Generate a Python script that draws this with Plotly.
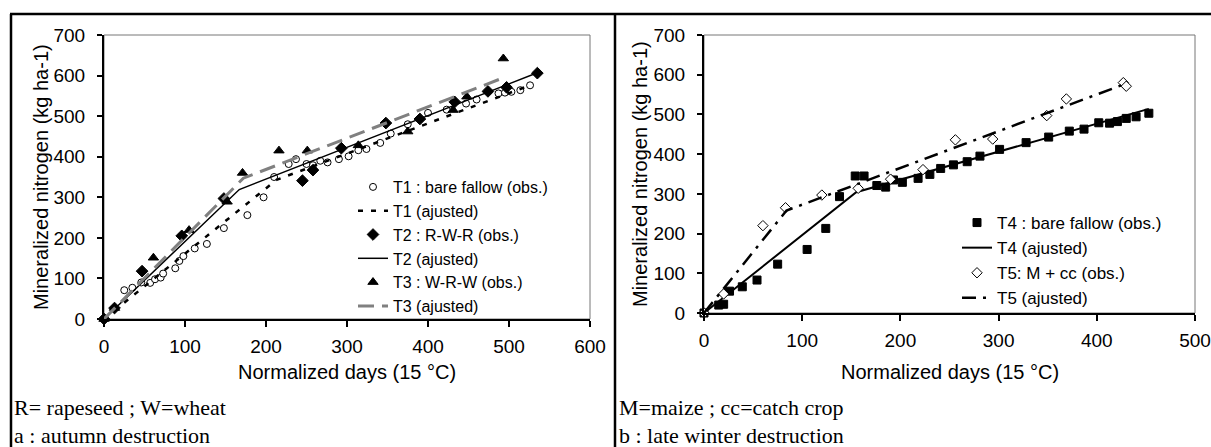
import plotly.graph_objects as go

# ---- panel a : autumn destruction ----
t1_days = [0, 25, 35, 46, 57, 63, 70, 73, 88, 93, 98, 112, 127, 148, 177, 197, 210, 228, 237,
           250, 258, 267, 276, 290, 302, 314, 324, 341, 354, 375, 400, 423, 447, 460, 487, 495,
           503, 514, 526]
t1_obs = [0, 71, 77, 90, 89, 98, 102, 112, 125, 143, 155, 174, 185, 224, 256, 300, 350, 382, 394,
          382, 379, 390, 386, 394, 401, 416, 419, 434, 457, 480, 508, 516, 531, 541, 556, 558,
          560, 564, 576]
t1_fit_days = [0, 213, 526]
t1_fit = [0, 343, 576]

t2_days = [0, 13, 47, 96, 148, 245, 258, 293, 348, 390, 433, 474, 497, 535]
t2_obs = [0, 27, 118, 205, 297, 341, 367, 421, 483, 493, 535, 561, 571, 606]
t2_fit_days = [0, 167, 535]
t2_fit = [0, 319, 607]

t3_days = [0, 13, 61, 105, 152, 171, 216, 251, 314, 375, 431, 448, 493]
t3_obs = [0, 27, 151, 219, 289, 360, 415, 415, 428, 462, 515, 548, 642]
t3_fit_days = [0, 172, 491]
t3_fit = [0, 347, 593]

# ---- panel b : late winter destruction ----
t4_days = [0, 15, 20, 26, 39, 54, 75, 105, 124, 138, 154, 163, 176, 185, 193, 202, 218, 230,
           241, 254, 268, 281, 301, 328, 351, 372, 387, 402, 413, 421, 430, 440, 453]
t4_obs = [0, 20, 22, 55, 66, 83, 123, 160, 213, 293, 345, 345, 321, 317, 335, 329, 339, 349,
          364, 373, 381, 395, 412, 429, 443, 458, 463, 479, 478, 482, 490, 494, 503]
t4_fit_days = [0, 155, 453]
t4_fit = [0, 304, 514]

t5_days = [0, 20, 60, 83, 120, 157, 190, 223, 256, 294, 349, 369, 427, 430]
t5_obs = [0, 48, 220, 265, 297, 314, 337, 361, 436, 438, 497, 539, 580, 571]
t5_fit_days = [0, 84, 430]
t5_fit = [0, 258, 578]

W, H = 1211, 447
FONT = "Liberation Sans, Arial, sans-serif"
SERIF = "Liberation Serif, Times New Roman, serif"


def px(x):
    return x / W


def py(y):
    return (H - y) / H


fig = go.Figure()


def obs(x, y, name, symbol, size, xa, ya, legend, fill="black"):
    fig.add_trace(go.Scatter(
        x=x, y=y, mode="markers", name=name, xaxis=xa, yaxis=ya, legend=legend,
        marker=dict(symbol=symbol, size=size, color=fill, line=dict(color="black", width=1)),
        cliponaxis=False))


def fit(x, y, name, color, width, dash, xa, ya, legend):
    fig.add_trace(go.Scatter(
        x=x, y=y, mode="lines", name=name, xaxis=xa, yaxis=ya, legend=legend,
        line=dict(color=color, width=width, dash=dash), cliponaxis=False))


obs(t1_days, t1_obs, "T1 : bare fallow (obs.)", "circle", 7, "x", "y", "legend", fill="white")
fit(t1_fit_days, t1_fit, "T1 (ajusted)", "black", 2.5, "5px,8px", "x", "y", "legend")
obs(t2_days, t2_obs, "T2 : R-W-R (obs.)", "diamond", 9, "x", "y", "legend")
fit(t2_fit_days, t2_fit, "T2 (ajusted)", "black", 1.5, "solid", "x", "y", "legend")
obs(t3_days, t3_obs, "T3 : W-R-W (obs.)", "triangle-up", 9, "x", "y", "legend")
fit(t3_fit_days, t3_fit, "T3 (ajusted)", "#808080", 3, "16px,8px", "x", "y", "legend")

obs(t4_days, t4_obs, "T4 : bare fallow (obs.)", "square", 8, "x2", "y2", "legend2")
fit(t4_fit_days, t4_fit, "T4 (ajusted)", "black", 2, "solid", "x2", "y2", "legend2")
obs(t5_days, t5_obs, "T5: M + cc (obs.)", "diamond", 8, "x2", "y2", "legend2", fill="white")
fit(t5_fit_days, t5_fit, "T5 (ajusted)", "black", 2.5, "14px,7px,3px,7px", "x2", "y2", "legend2")

xax = dict(showgrid=False, zeroline=False, showline=True, linecolor="black", linewidth=2,
           ticks="outside", ticklen=6, tickwidth=1.5, tickcolor="black", dtick=100,
           tickfont=dict(family=FONT, size=19, color="black"), ticklabelstandoff=3)
yax = dict(showgrid=False, zeroline=False, showline=True, linecolor="black", linewidth=2,
           ticks="outside", ticklen=5, tickwidth=1.5, tickcolor="black", dtick=100,
           range=[0, 700], tickfont=dict(family=FONT, size=19, color="black"),
           ticklabelstandoff=8)

legend_base = dict(bgcolor="rgba(0,0,0,0)", borderwidth=0, xanchor="left", yanchor="top",
                   traceorder="normal")

fig.update_layout(
    width=W, height=H, margin=dict(l=0, r=0, t=0, b=0, autoexpand=False),
    paper_bgcolor="white", plot_bgcolor="white",
    xaxis=dict(xax, domain=[px(104), px(590)], range=[0, 600], anchor="y"),
    yaxis=dict(yax, domain=[py(319), py(35)], anchor="x"),
    xaxis2=dict(xax, domain=[px(704), px(1195)], range=[0, 500], anchor="y2"),
    yaxis2=dict(yax, domain=[py(313), py(35)], anchor="x2"),
    legend=dict(legend_base, x=px(353), y=py(170), font=dict(family=FONT, size=16, color="black")),
    legend2=dict(legend_base, x=px(957), y=py(205), font=dict(family=FONT, size=17, color="black")),
)

# plot area borders
for xr, yr in (("x domain", "y domain"), ("x2 domain", "y2 domain")):
    fig.add_shape(type="rect", xref=xr, yref=yr, x0=0, x1=1, y0=0, y1=1,
                  line=dict(color="#777777", width=1), layer="below")

# table frame
frame = dict(xref="paper", yref="paper", line=dict(color="black", width=2.5))
fig.add_shape(type="line", x0=px(10), x1=1, y0=py(14), y1=py(14), **frame)
fig.add_shape(type="line", x0=px(11), x1=px(11), y0=py(14), y1=0, **frame)
fig.add_shape(type="line", x0=px(615), x1=px(615), y0=py(14), y1=0, **frame)

title_font = dict(family=FONT, size=20, color="black")
for x, y in ((41, 177), (640, 174)):
    fig.add_annotation(text="Mineralized nitrogen (kg ha-1)", x=px(x), y=py(y), xref="paper",
                       yref="paper", textangle=-90, showarrow=False, font=title_font,
                       xanchor="center", yanchor="middle")
for x in (347, 949.5):
    fig.add_annotation(text="Normalized days (15 °C)", x=px(x), y=py(372), xref="paper",
                       yref="paper", showarrow=False, font=title_font,
                       xanchor="center", yanchor="middle")

note_font = dict(family=SERIF, size=22, color="black")
notes = [(12, 407, "R= rapeseed ; W=wheat"), (12, 435, "a : autumn destruction"),
         (617, 407, "M=maize ; cc=catch crop"), (617, 435, "b : late winter destruction")]
for x, y, t in notes:
    fig.add_annotation(text=t, x=px(x), y=py(y), xref="paper", yref="paper", showarrow=False,
                       font=note_font, xanchor="left", yanchor="middle")

# the default page body has an 8px margin, which would push the figure out of the window
fig.write_html("out.html", config={"displayModeBar": False},
               post_script="document.body.style.margin = '0';")
